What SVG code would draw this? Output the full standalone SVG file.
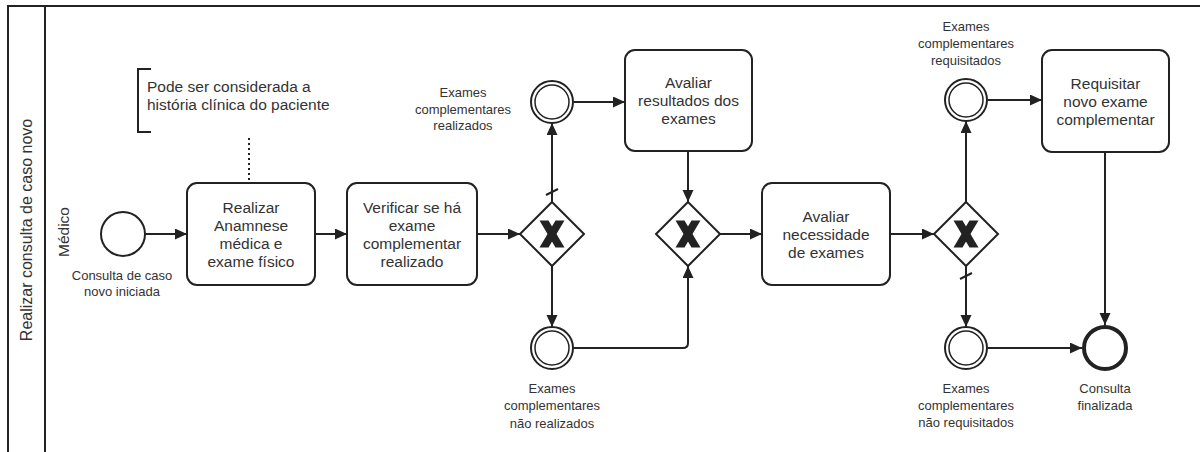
<svg xmlns="http://www.w3.org/2000/svg" width="1200" height="452" viewBox="0 0 1200 452">
  <style>
    .pool { fill: none; stroke: #222; stroke-width: 2; }
    .task { fill: #fff; stroke: #222; stroke-width: 2; }
    .gw { fill: #fff; stroke: #222; stroke-width: 2; }
    .ev { fill: #fff; stroke: #222; stroke-width: 2; }
    .ev-in { fill: none; stroke: #222; stroke-width: 1.5; }
    .ev-end { fill: #fff; stroke: #222; stroke-width: 4; }
    .flow { fill: none; stroke: #222; stroke-width: 2; }
    .assoc { fill: none; stroke: #222; stroke-width: 2; stroke-dasharray: 2 3; }
    .slash { stroke: #222; stroke-width: 2; }
    .t { font-family: "Liberation Sans", Arial, sans-serif; font-size: 15.5px; fill: #333; text-anchor: middle; }
    .lbl { font-family: "Liberation Sans", Arial, sans-serif; font-size: 13px; fill: #333; text-anchor: middle; }
    .note { font-family: "Liberation Sans", Arial, sans-serif; font-size: 15.5px; fill: #333; }
    .pt { font-family: "Liberation Sans", Arial, sans-serif; font-size: 16px; fill: #333; text-anchor: middle; }
  </style>
  <defs>
    <marker id="arrow" markerUnits="userSpaceOnUse" markerWidth="12" markerHeight="12" refX="12" refY="5.5" orient="auto">
      <path d="M0,0 L12,5.5 L0,11 z" fill="#222"/>
    </marker>
    <!-- exclusive gateway cross marker -->
    <g id="xmark" fill="#222">
      <path d="M-12.5,-13.5 L-3.5,-13.5 L12.5,13.5 L3.5,13.5 z"/>
      <path d="M12.5,-13.5 L3.5,-13.5 L-12.5,13.5 L-3.5,13.5 z"/>
    </g>
  </defs>

  <!-- pool and lane frame -->
  <g id="pool">
    <path class="pool" d="M8,452 L8,6 L1200,6 M45,6 L45,452"/>
    <text class="pt" transform="translate(32,230) rotate(-90)">Realizar consulta de caso novo</text>
    <text class="pt" style="font-size:15.5px" transform="translate(69,232) rotate(-90)">Médico</text>
  </g>

  <!-- sequence flows -->
  <g id="connectors">
    <line class="flow" x1="145" y1="234" x2="187" y2="234" marker-end="url(#arrow)"/>
    <line class="flow" x1="315" y1="234" x2="347" y2="234" marker-end="url(#arrow)"/>
    <line class="flow" x1="477" y1="234" x2="520" y2="234" marker-end="url(#arrow)"/>
    <line class="flow" x1="552" y1="202" x2="552" y2="123" marker-end="url(#arrow)"/>
    <line class="slash" x1="546" y1="195" x2="558" y2="189"/>
    <line class="flow" x1="552" y1="266" x2="552" y2="327" marker-end="url(#arrow)"/>
    <line class="flow" x1="574" y1="102" x2="625" y2="102" marker-end="url(#arrow)"/>
    <line class="flow" x1="688" y1="151" x2="688" y2="202" marker-end="url(#arrow)"/>
    <path class="flow" d="M574,348 L683,348 Q688,348 688,343 L688,266" marker-end="url(#arrow)"/>
    <line class="flow" x1="720" y1="234" x2="762" y2="234" marker-end="url(#arrow)"/>
    <line class="flow" x1="890" y1="234" x2="934" y2="234" marker-end="url(#arrow)"/>
    <line class="flow" x1="966" y1="202" x2="966" y2="121" marker-end="url(#arrow)"/>
    <line class="flow" x1="966" y1="266" x2="966" y2="327" marker-end="url(#arrow)"/>
    <line class="slash" x1="960" y1="279" x2="972" y2="273"/>
    <line class="flow" x1="988" y1="100" x2="1042" y2="100" marker-end="url(#arrow)"/>
    <line class="flow" x1="988" y1="348" x2="1082" y2="348" marker-end="url(#arrow)"/>
    <line class="flow" x1="1105" y1="152" x2="1105" y2="325" marker-end="url(#arrow)"/>
    <line class="assoc" x1="249" y1="138" x2="249" y2="183"/>
  </g>

  <!-- text annotation -->
  <g id="annotation">
    <path class="flow" d="M151,69 L138,69 L138,132 L151,132"/>
    <text class="note" x="147" y="92">Pode ser considerada a</text>
    <text class="note" x="147" y="110">história clínica do paciente</text>
  </g>

  <g id="start">
    <circle class="ev" cx="123" cy="234" r="22"/>
    <text class="lbl" x="122" y="280">Consulta de caso</text>
    <text class="lbl" x="122" y="296">novo iniciada</text>
  </g>

  <g id="task-anamnese">
    <rect class="task" x="187" y="183" width="128" height="102" rx="10"/>
    <text class="t" x="251" y="212.5">Realizar</text>
    <text class="t" x="251" y="230.5">Anamnese</text>
    <text class="t" x="251" y="248.5">médica e</text>
    <text class="t" x="251" y="266.5">exame físico</text>
  </g>

  <g id="task-verificar">
    <rect class="task" x="347" y="183" width="130" height="102" rx="10"/>
    <text class="t" x="412" y="212.5">Verificar se há</text>
    <text class="t" x="412" y="230.5">exame</text>
    <text class="t" x="412" y="248.5">complementar</text>
    <text class="t" x="412" y="266.5">realizado</text>
  </g>

  <g id="gateway-1">
    <polygon class="gw" points="552,202 584,234 552,266 520,234"/>
    <use href="#xmark" x="552" y="234"/>
  </g>

  <g id="event-realizados">
    <circle class="ev" cx="552" cy="102" r="21"/>
    <circle class="ev-in" cx="552" cy="102" r="17"/>
    <text class="lbl" x="463" y="96.5">Exames</text>
    <text class="lbl" x="463" y="113.5">complementares</text>
    <text class="lbl" x="463" y="130">realizados</text>
  </g>

  <g id="event-nao-realizados">
    <circle class="ev" cx="552" cy="348" r="21"/>
    <circle class="ev-in" cx="552" cy="348" r="17"/>
    <text class="lbl" x="552" y="392.5">Exames</text>
    <text class="lbl" x="552" y="410">complementares</text>
    <text class="lbl" x="552" y="427.5">não realizados</text>
  </g>

  <g id="task-avaliar-resultados">
    <rect class="task" x="625" y="50" width="127" height="101" rx="10"/>
    <text class="t" x="688.5" y="88">Avaliar</text>
    <text class="t" x="688.5" y="106">resultados dos</text>
    <text class="t" x="688.5" y="124">exames</text>
  </g>

  <g id="gateway-2">
    <polygon class="gw" points="688,202 720,234 688,266 656,234"/>
    <use href="#xmark" x="688" y="234"/>
  </g>

  <g id="task-avaliar-necessidade">
    <rect class="task" x="762" y="183" width="128" height="102" rx="10"/>
    <text class="t" x="826" y="221.5">Avaliar</text>
    <text class="t" x="826" y="239.5">necessidade</text>
    <text class="t" x="826" y="257.5">de exames</text>
  </g>

  <g id="gateway-3">
    <polygon class="gw" points="966,202 998,234 966,266 934,234"/>
    <use href="#xmark" x="966" y="234"/>
  </g>

  <g id="event-requisitados">
    <circle class="ev" cx="966" cy="100" r="21"/>
    <circle class="ev-in" cx="966" cy="100" r="17"/>
    <text class="lbl" x="966" y="30.5">Exames</text>
    <text class="lbl" x="966" y="47.5">complementares</text>
    <text class="lbl" x="966" y="64.5">requisitados</text>
  </g>

  <g id="event-nao-requisitados">
    <circle class="ev" cx="966" cy="348" r="21"/>
    <circle class="ev-in" cx="966" cy="348" r="17"/>
    <text class="lbl" x="966" y="392.5">Exames</text>
    <text class="lbl" x="966" y="409.5">complementares</text>
    <text class="lbl" x="966" y="426.5">não requisitados</text>
  </g>

  <g id="task-requisitar">
    <rect class="task" x="1042" y="50" width="127" height="102" rx="10"/>
    <text class="t" x="1105.5" y="88.5">Requisitar</text>
    <text class="t" x="1105.5" y="106.5">novo exame</text>
    <text class="t" x="1105.5" y="124.5">complementar</text>
  </g>

  <g id="end">
    <circle class="ev-end" cx="1105" cy="348" r="21"/>
    <text class="lbl" x="1105" y="392.5">Consulta</text>
    <text class="lbl" x="1105" y="409.5">finalizada</text>
  </g>
</svg>
